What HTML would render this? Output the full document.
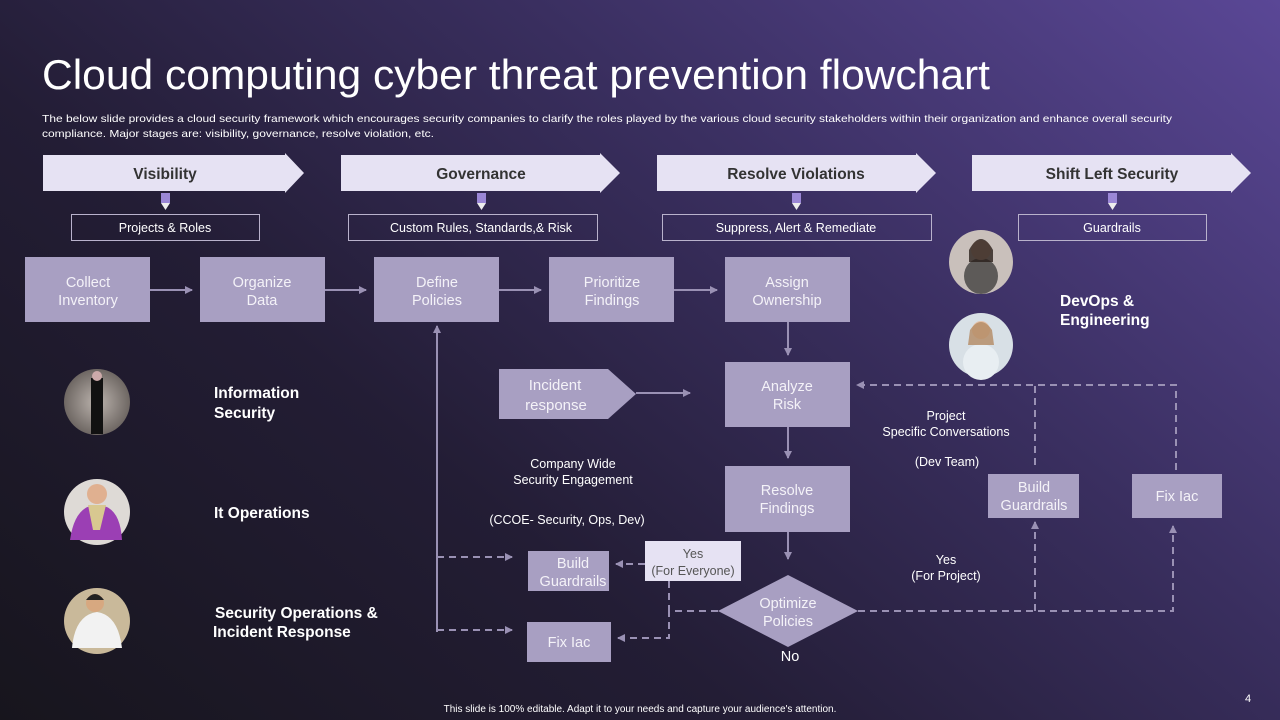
<!DOCTYPE html>
<html><head><meta charset="utf-8"><style>
html,body{margin:0;padding:0;width:1280px;height:720px;overflow:hidden}
body{background:linear-gradient(40deg,#17151d 0%,#231d35 35%,#3a2f60 65%,#5a4796 100%);font-family:"Liberation Sans",Arial,sans-serif}
svg{position:absolute;left:0;top:0}
</style></head><body>
<svg width="1280" height="720" viewBox="0 0 1280 720" font-family="Liberation Sans, Arial, sans-serif">
<defs>
<marker id="a" markerWidth="8" markerHeight="8" refX="7" refY="4" orient="auto" markerUnits="userSpaceOnUse"><path d="M0,0 L8,4 L0,8 z" fill="#9a91b4"/></marker>
<radialGradient id="p1"><stop offset="0" stop-color="#bcb4ae"/><stop offset="1" stop-color="#6e6763"/></radialGradient>
</defs>
<text x="42" y="89" font-size="42" fill="#fff" textLength="948" lengthAdjust="spacingAndGlyphs">Cloud computing cyber threat prevention flowchart</text>
<text font-size="10.5" fill="#fff"><tspan x="42" y="122" textLength="1130" lengthAdjust="spacingAndGlyphs">The below slide provides a cloud security framework which encourages security companies to clarify the roles played by the various cloud security stakeholders within their organization and enhance overall security</tspan></text>
<text font-size="10.5" fill="#fff"><tspan x="42" y="137" textLength="392" lengthAdjust="spacingAndGlyphs">compliance. Major stages are: visibility, governance, resolve violation, etc.</tspan></text>

<g fill="#e6e2f3">
<path d="M43,155 H285 V153 L304,173 L285,193 V191 H43 z"/>
<path d="M341,155 H600 V153 L620,173 L600,193 V191 H341 z"/>
<path d="M657,155 H916 V153 L936,173 L916,193 V191 H657 z"/>
<path d="M972,155 H1231 V153 L1251,173 L1231,193 V191 H972 z"/>
</g>
<g font-size="15.5" font-weight="bold" fill="#333" text-anchor="middle">
<text x="165" y="179">Visibility</text><text x="481" y="179">Governance</text><text x="796" y="179">Resolve Violations</text><text x="1112" y="179">Shift Left Security</text>
</g>
<g>
<rect x="161" y="193" width="9" height="10" fill="#9b87d6"/><path d="M161,203 H170 L165.5,210 z" fill="#eee"/>
<rect x="477" y="193" width="9" height="10" fill="#9b87d6"/><path d="M477,203 H486 L481.5,210 z" fill="#eee"/>
<rect x="792" y="193" width="9" height="10" fill="#9b87d6"/><path d="M792,203 H801 L796.5,210 z" fill="#eee"/>
<rect x="1108" y="193" width="9" height="10" fill="#9b87d6"/><path d="M1108,203 H1117 L1112.5,210 z" fill="#eee"/>
</g>
<g fill="none" stroke="#b9b2cc" stroke-width="1">
<rect x="71.5" y="214.5" width="188" height="26"/><rect x="348.5" y="214.5" width="249" height="26"/>
<rect x="662.5" y="214.5" width="269" height="26"/><rect x="1018.5" y="214.5" width="188" height="26"/>
</g>
<g font-size="12.5" fill="#fff" text-anchor="middle">
<text x="165" y="232">Projects &amp; Roles</text><text x="481" y="232">Custom Rules, Standards,&amp; Risk</text>
<text x="796" y="232">Suppress, Alert &amp; Remediate</text><text x="1112" y="232">Guardrails</text>
</g>

<g fill="#a89fc2">
<rect x="25" y="257" width="125" height="65"/><rect x="200" y="257" width="125" height="65"/>
<rect x="374" y="257" width="125" height="65"/><rect x="549" y="257" width="125" height="65"/>
<rect x="725" y="257" width="125" height="65"/>
<rect x="725" y="362" width="125" height="65"/><rect x="725" y="466" width="125" height="66"/>
<path d="M788,575 L858,611 L788,647 L718,611 z"/>
<path d="M499,369 H608 L636,394 L608,419 H499 z"/>
<rect x="528" y="551" width="81" height="40"/><rect x="527" y="622" width="84" height="40"/>
<rect x="988" y="474" width="91" height="44"/><rect x="1132" y="474" width="90" height="44"/>
</g>
<rect x="645" y="541" width="96" height="40" fill="#e6e2f3"/>
<g font-size="14.5" fill="#f4f2f8" text-anchor="middle">
<text x="88" y="287">Collect</text><text x="88" y="305">Inventory</text>
<text x="262" y="287">Organize</text><text x="262" y="305">Data</text>
<text x="437" y="287">Define</text><text x="437" y="305">Policies</text>
<text x="612" y="287">Prioritize</text><text x="612" y="305">Findings</text>
<text x="787" y="287">Assign</text><text x="787" y="305">Ownership</text>
<text x="787" y="391">Analyze</text><text x="787" y="409">Risk</text>
<text x="787" y="495">Resolve</text><text x="787" y="513">Findings</text>
<text x="788" y="608">Optimize</text><text x="788" y="626">Policies</text>
<text x="555" y="390" font-size="15">Incident</text><text x="556" y="410" font-size="15">response</text>
<text x="573" y="568">Build</text><text x="573" y="586">Guardrails</text>
<text x="569" y="647">Fix Iac</text>
<text x="1034" y="492">Build</text><text x="1034" y="510">Guardrails</text>
<text x="1177" y="501">Fix Iac</text>
<text x="790" y="661" fill="#fff">No</text>
</g>
<g font-size="12.5" fill="#555" text-anchor="middle"><text x="693" y="558">Yes</text><text x="693" y="575">(For Everyone)</text></g>
<g font-size="12.5" fill="#fff" text-anchor="middle">
<text x="573" y="468">Company Wide</text><text x="573" y="484">Security Engagement</text>
<text x="567" y="524">(CCOE- Security, Ops, Dev)</text>
<text x="946" y="420">Project</text><text x="946" y="436">Specific Conversations</text>
<text x="947" y="466">(Dev Team)</text>
<text x="946" y="564">Yes</text><text x="946" y="580">(For Project)</text>
</g>

<g stroke="#9a91b4" stroke-width="2" fill="none">
<line x1="150" y1="290" x2="192" y2="290" marker-end="url(#a)"/>
<line x1="325" y1="290" x2="366" y2="290" marker-end="url(#a)"/>
<line x1="499" y1="290" x2="541" y2="290" marker-end="url(#a)"/>
<line x1="674" y1="290" x2="717" y2="290" marker-end="url(#a)"/>
<line x1="788" y1="322" x2="788" y2="355" marker-end="url(#a)"/>
<line x1="788" y1="427" x2="788" y2="458" marker-end="url(#a)"/>
<line x1="788" y1="532" x2="788" y2="559" marker-end="url(#a)"/>
<line x1="636" y1="393" x2="690" y2="393" marker-end="url(#a)"/>
<line x1="437" y1="632" x2="437" y2="326" marker-end="url(#a)"/>
</g>
<g stroke="#9a91b4" stroke-width="2" fill="none" stroke-dasharray="7,5">
<line x1="437" y1="557" x2="512" y2="557" marker-end="url(#a)"/>
<line x1="437" y1="630" x2="512" y2="630" marker-end="url(#a)"/>
<line x1="645" y1="564" x2="616" y2="564" marker-end="url(#a)"/>
<polyline points="718,611 669,611 669,638 618,638" marker-end="url(#a)"/>
<line x1="669" y1="581" x2="669" y2="611"/>
<polyline points="858,611 1173,611 1173,526" marker-end="url(#a)"/>
<line x1="1035" y1="611" x2="1035" y2="522" marker-end="url(#a)"/>
<line x1="1035" y1="465" x2="1035" y2="385"/>
<polyline points="1176,470 1176,385 857,385" marker-end="url(#a)"/>
</g>

<circle cx="981" cy="262" r="32" fill="#c9c0bb"/><ellipse cx="981" cy="276" rx="17" ry="18" fill="#5d5a58"/><circle cx="981" cy="250" r="10" fill="#d8b59c"/><path d="M969,250 Q981,228 993,250 L993,262 L969,262z" fill="#2a1f1c" opacity=".8"/>
<circle cx="981" cy="345" r="32" fill="#d8e0e6"/><ellipse cx="981" cy="362" rx="18" ry="18" fill="#e8eef2"/><circle cx="981" cy="330" r="9" fill="#e2c2aa"/><path d="M970,330 Q981,314 992,330 L994,345 L968,345z" fill="#b48a63" opacity=".8"/>
<circle cx="97" cy="402" r="33" fill="url(#p1)"/><rect x="91" y="378" width="12" height="56" fill="#111"/><circle cx="97" cy="376" r="5" fill="#caa"/>
<circle cx="97" cy="512" r="33" fill="#dedad6"/><path d="M70,540 Q75,505 97,505 Q120,505 122,540 z" fill="#9b3fb4"/><circle cx="97" cy="494" r="10" fill="#e0b090"/><path d="M88,505 L106,505 L100,530 L93,530z" fill="#d8c890"/>
<circle cx="97" cy="621" r="33" fill="#c9b99a"/><path d="M72,648 Q75,615 97,612 Q118,615 122,648 z" fill="#f2f2f2"/><circle cx="95" cy="603" r="9" fill="#d7a880"/><path d="M86,600 Q95,588 104,600z" fill="#222"/>

<g font-size="15.5" font-weight="bold" fill="#fff">
<text x="214" y="398">Information</text><text x="214" y="418">Security</text>
<text x="214" y="518">It Operations</text>
<text x="215" y="618">Security Operations &amp;</text><text x="213" y="637">Incident Response</text>
<text x="1060" y="306">DevOps &amp;</text><text x="1060" y="325">Engineering</text>
</g>
<text x="640" y="712" font-size="10" fill="#fff" text-anchor="middle">This slide is 100% editable. Adapt it to your needs and capture your audience's attention.</text>
<text x="1248" y="702" font-size="11" fill="#fff" text-anchor="middle">4</text>
</svg>
</body></html>
